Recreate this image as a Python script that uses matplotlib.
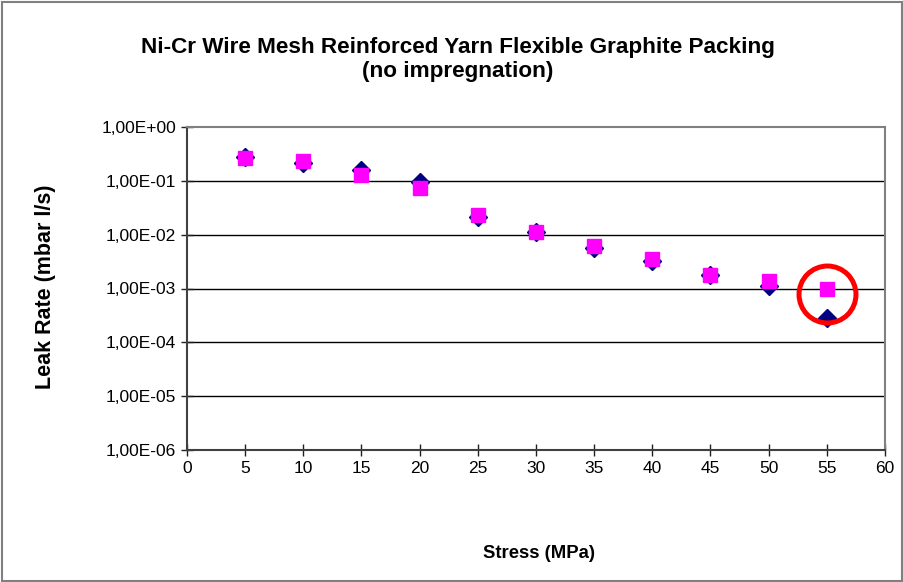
import numpy as np
import matplotlib
matplotlib.use('Agg')
import matplotlib.pyplot as plt
from matplotlib.patches import Rectangle
from matplotlib.ticker import FuncFormatter, NullLocator

# ===== 数据 =====
stress = [5, 10, 15, 20, 25, 30, 35, 40, 45, 50, 55]
leak_a = [0.28, 0.21, 0.158, 0.095, 0.021, 0.011, 0.0056, 0.0032, 0.0018, 0.0011, 0.00028]
leak_b = [0.26, 0.23, 0.128, 0.074, 0.023, 0.0112, 0.0061, 0.0035, 0.0018, 0.0014, 0.001]
x_ticks = list(range(0, 61, 5))
y_decades = [1e-6, 1e-5, 1e-4, 1e-3, 1e-2, 1e-1, 1e0]
mark_x, mark_y = 55, 0.00079   # 红圈位置

W, H = 904, 582
plt.rcParams['font.family'] = ['Liberation Sans', 'DejaVu Sans']

fig = plt.figure(figsize=(W / 100, H / 100), dpi=100)
ax = fig.add_axes([187 / W, 1 - 450 / H, (885 - 187) / W, (450 - 127) / H])

ax.set_yscale('log')
ax.set_xlim(0, 60)
ax.set_ylim(1e-6, 1e0)

ax.plot(stress, leak_a, linestyle='none', marker='D', markersize=9,
        color='#000080', zorder=3)
ax.plot(stress, leak_b, linestyle='none', marker='s', markersize=10.5,
        color='#FF00FF', zorder=4)

# 红圈标出最后一个点
ax.plot([mark_x], [mark_y], linestyle='none', marker='o', markersize=41,
        markerfacecolor='none', markeredgecolor='#FF0000',
        markeredgewidth=3.6, zorder=5, clip_on=False)

ax.set_xticks(x_ticks)
ax.set_yticks(y_decades)
ax.yaxis.set_minor_locator(NullLocator())
ax.yaxis.set_major_formatter(FuncFormatter(
    lambda v, p: ('%.2E' % v).replace('.', ',')))
ax.tick_params(axis='both', labelsize=12.5, direction='inout', length=8,
               width=1, color='#202020', pad=4)

for y in y_decades[1:-1]:
    ax.axhline(y, color='black', linewidth=1, zorder=1)

for s in ['top', 'right']:
    ax.spines[s].set_color('#808080')
    ax.spines[s].set_linewidth(1.5)
for s in ['left', 'bottom']:
    ax.spines[s].set_color('#404040')
    ax.spines[s].set_linewidth(1.5)

fig.text(539 / W, 1 - 553 / H, 'Stress (MPa)', ha='center', va='center',
         fontsize=13.3, fontweight='bold')
fig.text(46 / W, 1 - 287 / H, 'Leak Rate (mbar l/s)', ha='center', va='center',
         rotation=90, fontsize=15.5, fontweight='bold')
fig.text(458 / W, 1 - 47 / H, 'Ni-Cr Wire Mesh Reinforced Yarn Flexible Graphite Packing',
         ha='center', va='center', fontsize=16.2, fontweight='bold')
fig.text(458 / W, 1 - 72 / H, '(no impregnation)',
         ha='center', va='center', fontsize=16.2, fontweight='bold')

# 外框
fig.patches.append(Rectangle((0.002, 0.002), 0.996, 0.994, transform=fig.transFigure,
                             fill=False, edgecolor='#808080', linewidth=1.5))

fig.savefig('out.png', dpi=100)
